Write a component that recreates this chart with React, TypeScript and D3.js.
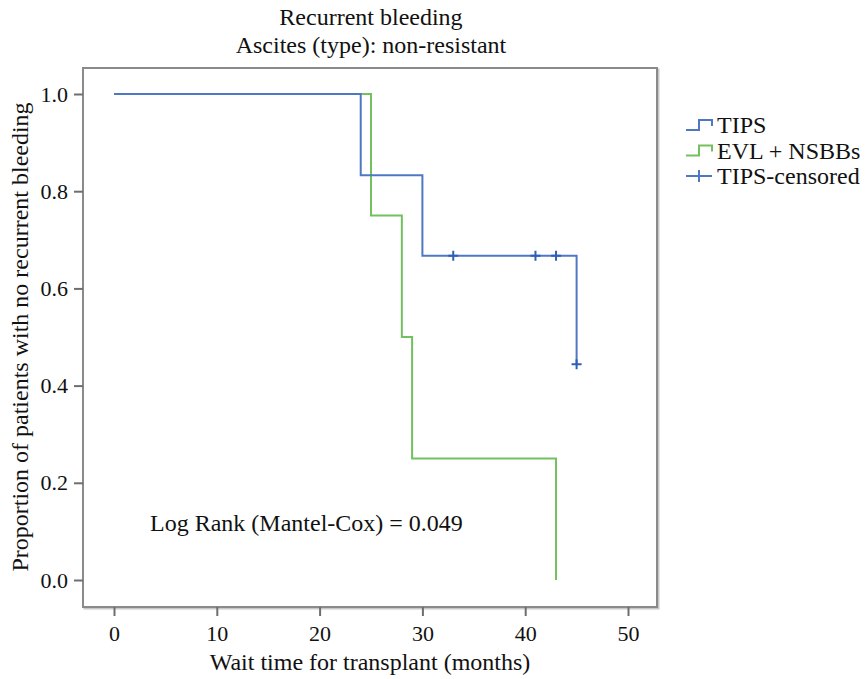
import { useEffect, useRef } from "react";
import * as d3 from "d3";

// Kaplan-Meier steps
const tipsTimes = [0, 24, 30, 45];
const tipsSurv = [1.0, 0.833, 0.667, 0.444];
const tipsEnd = 45;
const tipsCensorTimes = [33, 41, 43, 45];
const tipsCensorSurv = [0.667, 0.667, 0.667, 0.444];

const evlTimes = [0, 25, 28, 29, 43];
const evlSurv = [1.0, 0.75, 0.5, 0.25, 0.0];
const evlEnd = 43;

const xTicks = [0, 10, 20, 30, 40, 50];
const yTicks = [0.0, 0.2, 0.4, 0.6, 0.8, 1.0];
const legendLabels = ["TIPS", "EVL + NSBBs", "TIPS-censored"];

const BLUE = "#4f78c4";
const GREEN = "#72c05e";

function stepPoints(times: number[], surv: number[], end: number) {
  const pts: [number, number][] = [];
  times.forEach((t, i) => {
    if (i > 0) pts.push([t, surv[i - 1]]);
    pts.push([t, surv[i]]);
  });
  pts.push([end, surv[surv.length - 1]]);
  return pts;
}

export default function App() {
  const svgRef = useRef<SVGSVGElement>(null);
  const width = 865;
  const height = 679;

  useEffect(() => {
    if (!svgRef.current) return;
    const svg = d3.select(svgRef.current);
    const font = "Liberation Serif, Times New Roman, serif";

    // frame
    const frame = { left: 83, top: 68, right: 657, bottom: 607 };

    const x = d3.scaleLinear([0, 50], [114, 628]);
    const y = d3.scaleLinear([0, 1], [580, 94]);

    svg.append("rect")
      .attr("x", frame.left + 1.5).attr("y", frame.top + 1.5)
      .attr("width", frame.right - frame.left).attr("height", frame.bottom - frame.top)
      .attr("fill", "none").attr("stroke", "#c8c8c8").attr("stroke-width", 2);
    svg.append("rect")
      .attr("x", frame.left).attr("y", frame.top)
      .attr("width", frame.right - frame.left).attr("height", frame.bottom - frame.top)
      .attr("fill", "#fff").attr("stroke", "#8a8a8a").attr("stroke-width", 2);

    // x axis ticks
    const gx = svg.append("g")
      .attr("transform", `translate(0,${frame.bottom})`)
      .call(d3.axisBottom(x).tickValues(xTicks).tickSize(9).tickSizeOuter(0).tickPadding(9).tickFormat(d3.format("d")));
    gx.select(".domain").remove();
    gx.selectAll(".tick line").attr("stroke", "#6e6e6e").attr("stroke-width", 2);
    gx.selectAll(".tick text").style("font-family", font).style("font-size", "22px").attr("fill", "#111");

    // y axis ticks
    const gy = svg.append("g")
      .attr("transform", `translate(${frame.left},0)`)
      .call(d3.axisLeft(y).tickValues(yTicks).tickSize(9).tickSizeOuter(0).tickPadding(6).tickFormat(d3.format(".1f")));
    gy.select(".domain").remove();
    gy.selectAll(".tick line").attr("stroke", "#6e6e6e").attr("stroke-width", 2);
    gy.selectAll(".tick text").style("font-family", font).style("font-size", "22px").attr("fill", "#111");

    const txt = (x0: number, y0: number, s: string, anchor = "middle") =>
      svg.append("text").attr("x", x0).attr("y", y0).attr("text-anchor", anchor)
        .style("font-family", font).style("font-size", "24px").attr("fill", "#111").text(s);

    // titles
    txt(371, 25, "Recurrent bleeding");
    txt(371, 53, "Ascites (type): non-resistant");
    txt(370, 670, "Wait time for transplant (months)");
    txt(150, 531, "Log Rank (Mantel-Cox) = 0.049", "start");

    svg.append("text").attr("transform", "translate(28,337) rotate(-90)").attr("text-anchor", "middle")
      .style("font-family", font).style("font-size", "24px").attr("fill", "#111")
      .text("Proportion of patients with no recurrent bleeding");

    const line = d3.line<[number, number]>().x(d => x(d[0])).y(d => y(d[1]));

    svg.append("path").attr("d", line(stepPoints(evlTimes, evlSurv, evlEnd)))
      .attr("fill", "none").attr("stroke", GREEN).attr("stroke-width", 2);
    svg.append("path").attr("d", line(stepPoints(tipsTimes, tipsSurv, tipsEnd)))
      .attr("fill", "none").attr("stroke", BLUE).attr("stroke-width", 2);

    // censor marks
    const cs = 5;
    svg.append("g").selectAll("path").data(tipsCensorTimes.map((t, i) => [t, tipsCensorSurv[i]]))
      .join("path")
      .attr("d", d => `M${x(d[0]) - cs},${y(d[1])}H${x(d[0]) + cs}M${x(d[0])},${y(d[1]) - cs}V${y(d[1]) + cs}`)
      .attr("stroke", "#2f5fb5").attr("stroke-width", 2).attr("fill", "none");

    // legend
    const lg = svg.append("g").attr("transform", "translate(686,125)");
    legendLabels.forEach((lab, i) => {
      const row = lg.append("g").attr("transform", `translate(0,${i * 25.5})`);
      if (i < 2) {
        row.append("path").attr("d", "M0,5H13V-5H26V1")
          .attr("fill", "none").attr("stroke", i === 0 ? BLUE : GREEN).attr("stroke-width", 2);
      } else {
        row.append("path").attr("d", "M0,0H26M13,-6V6")
          .attr("fill", "none").attr("stroke", BLUE).attr("stroke-width", 2);
      }
      row.append("text").attr("x", 31).attr("y", 8)
        .style("font-family", font).style("font-size", "24px").attr("fill", "#111").text(lab);
    });

    return () => { svg.selectAll("*").remove(); };
  }, []);

  return (
    <svg ref={svgRef} width={width} height={height} viewBox={`0 0 ${width} ${height}`}
      style={{ position: "absolute", left: 0, top: 0, background: "#fff" }} />
  );
}
